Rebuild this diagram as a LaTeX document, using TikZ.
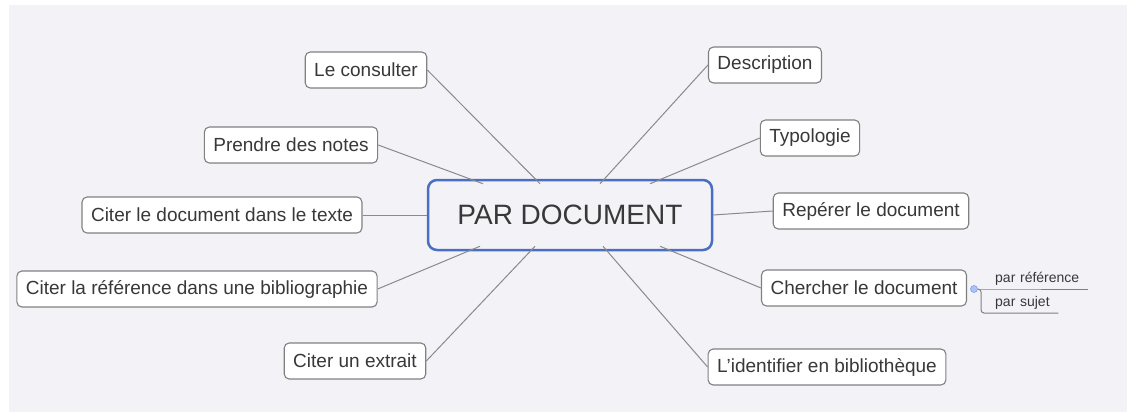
\documentclass[tikz,border=0pt]{standalone}
\usepackage{fontspec}
\setmainfont{Liberation Sans}
\usepackage{xcolor}
\usetikzlibrary{calc}

\definecolor{fond}{HTML}{F3F2F7}
\definecolor{bleu}{HTML}{4A6EC2}
\definecolor{texte}{HTML}{383838}
\definecolor{bord}{HTML}{808080}
\definecolor{trait}{HTML}{8A8A8A}
\definecolor{point}{HTML}{A9C4F0}

\tikzset{
  branche/.style={draw=bord, line width=1.1pt, fill=white, rounded corners=5pt,
    minimum height=36pt, inner xsep=9pt, text=texte,
    font=\fontsize{19}{22}\selectfont},
  centre/.style={draw=bleu, line width=2.5pt, fill=fond, rounded corners=9pt,
    minimum width=284pt, minimum height=70pt, text=texte,
    font=\fontsize{28}{31}\selectfont},
  sous/.style={anchor=south west, inner xsep=0pt, inner ysep=3pt, align=left,
    text=texte, font=\fontsize{14}{16}\selectfont},
  lien/.style={draw=trait, line width=1pt},
}

\begin{document}
\begin{tikzpicture}[x=1pt, y=-1pt]
  % Dessinez le fond
  \useasboundingbox (0,0) rectangle (1127,412);
  \fill[white] (0,0) rectangle (1127,412);
  \fill[fond] (9,5) rectangle (1127,412);

  % Ajoutez le noeud central
  \node[centre] (doc) at (570,215) {PAR DOCUMENT};

  % Ajoutez les branches
  \foreach \n/\x/\y/\t in {lc/366/70/Le consulter,
      pn/291/145/Prendre des notes,
      cd/222/215/Citer le document dans le texte,
      cr/197/289/Citer la référence dans une bibliographie,
      ce/355/361/Citer un extrait,
      de/765/65/Description,
      ty/810/138/Typologie,
      rd/871/211/Repérer le document,
      ch/864/288/Chercher le document,
      li/827/367/L'identifier en bibliothèque} {
    \node[branche] (\n) at (\x,\y) {\t};
  }

  % Dessinez les liens vers le noeud central
  \foreach \n/\d in {pn/-87, lc/-30} {
    \draw[lien] (\n.east) -- ([xshift=\d pt, yshift=-5pt]doc.north);
  }
  \foreach \n/\d in {de/30, ty/80} {
    \draw[lien] (\n.west) -- ([xshift=\d pt, yshift=-5pt]doc.north);
  }
  \foreach \n/\d in {cr/-90, ce/-35} {
    \draw[lien] (\n.east) -- ([xshift=\d pt, yshift=5pt]doc.south);
  }
  \foreach \n/\d in {li/33, ch/90} {
    \draw[lien] (\n.west) -- ([xshift=\d pt, yshift=5pt]doc.south);
  }
  \draw[lien] (cd.east) -- (doc.west);
  \draw[lien] (rd.west) -- (doc.east);

  % Ajoutez les sous-branches
  \node[circle, fill=point, draw=point!80!blue, line width=0.6pt,
    inner sep=0pt, minimum size=7pt] (pt) at (974,289) {};
  \node[sous, text width=93pt] (pr) at (995,289) {par référence};
  \node[sous, text width=63pt] (ps) at (995,313) {par sujet};
  \draw[lien, draw=gray] (pt.east) -- (pr.south west) -- (pr.south east);
  \draw[lien, draw=gray, rounded corners=3pt]
    (pt.east) -| ([xshift=-14pt]ps.south west) -- (ps.south east);
\end{tikzpicture}
\end{document}
